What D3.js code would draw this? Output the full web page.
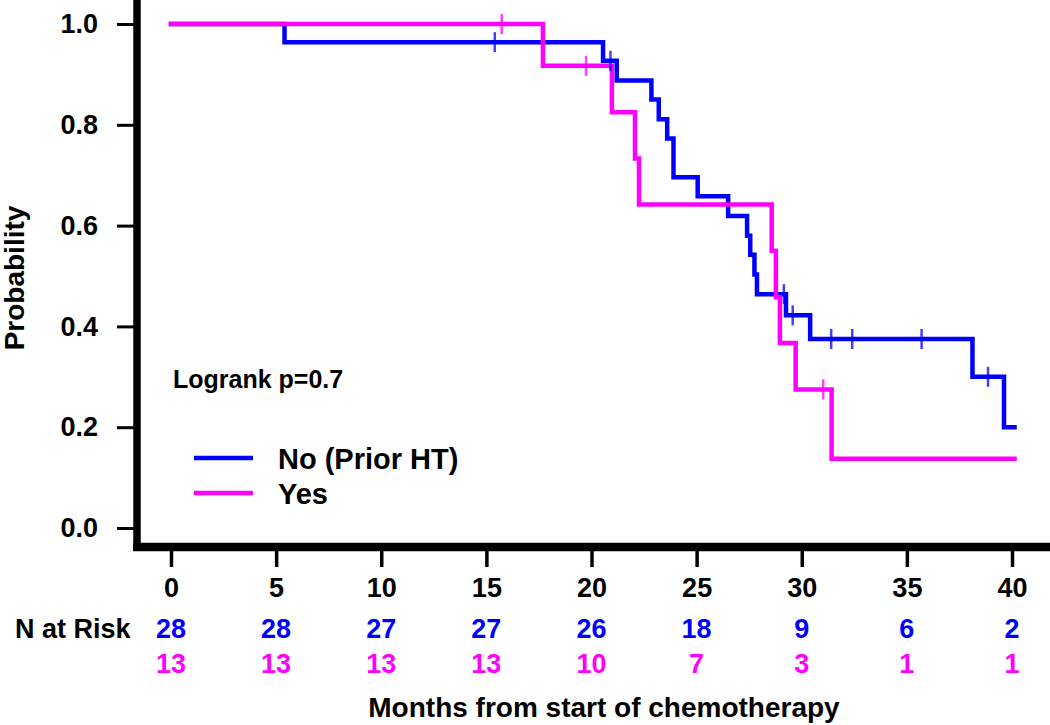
<!DOCTYPE html>
<html>
<head>
<meta charset="utf-8">
<script src="https://cdn.jsdelivr.net/npm/d3@7"></script>
<style>
  html, body { margin: 0; padding: 0; background: #fff; }
  svg { display: block; font-family: "Liberation Sans", Arial, sans-serif; font-weight: bold; }
</style>
</head>
<body>
<svg id="chart" width="1050" height="725"></svg>
<script>
// ---- Data ----
const xTicks = [0, 5, 10, 15, 20, 25, 30, 35, 40];
const yTicks = [0.0, 0.2, 0.4, 0.6, 0.8, 1.0];

// Group "No (Prior HT)" step curve
const noTimes = [0, 5.4, 20.55, 21.2, 22.85, 23.2, 23.6, 23.9, 25.05, 26.5, 27.4, 27.55, 27.75, 27.87, 29.25, 30.4, 38.12, 39.62, 40.12];
const noSurv  = [1, 0.964, 0.927, 0.888, 0.850, 0.811, 0.773, 0.696, 0.658, 0.619, 0.580, 0.542, 0.503, 0.464, 0.422, 0.375, 0.300, 0.200, 0.200];
const noCensor = [15.4, 20.9, 29.15, 29.57, 31.4, 32.4, 35.7, 38.86];

// Group "Yes" step curve
const yesTimes = [0, 17.69, 20.97, 22.07, 22.26, 28.57, 28.77, 28.96, 29.71, 31.42, 40.12];
const yesSurv  = [1, 0.917, 0.825, 0.733, 0.642, 0.550, 0.458, 0.367, 0.275, 0.1375, 0.1375];
const yesCensor = [15.73, 19.74, 31.02];

// Numbers at risk
const riskNo  = [28, 28, 27, 27, 26, 18, 9, 6, 2];
const riskYes = [13, 13, 13, 13, 10, 7, 3, 1, 1];

const groupLabels = ["No (Prior HT)", "Yes"];
const colors = ["#0000ff", "#ff00ff"];

// ---- Layout ----
const svg = d3.select("#chart");
const x = d3.scaleLinear().domain([0, 40]).range([171, 1012]);
const y = d3.scaleLinear().domain([0, 1]).range([528, 24]);

const toPts = (t, s) => t.map((d, i) => [d, s[i]]);
const stepAt = (t, s, v) => { let r = s[0]; for (let i = 0; i < t.length; i++) if (t[i] <= v) r = s[i]; return r; };

const line = d3.line().x(d => x(d[0])).y(d => y(d[1])).curve(d3.curveStepAfter);

const groups = [
  { t: noTimes, s: noSurv, c: noCensor, color: colors[0] },
  { t: yesTimes, s: yesSurv, c: yesCensor, color: colors[1] }
];

// Curves (blue drawn first, pink over)
groups.forEach(g => {
  svg.append("path")
    .attr("d", line(toPts(g.t, g.s)))
    .attr("fill", "none")
    .attr("stroke", g.color)
    .attr("stroke-width", 4.5)
    .attr("stroke-linejoin", "miter")
    .attr("stroke-linecap", "square");
});

// Censor marks
groups.forEach(g => {
  svg.append("g").selectAll("line").data(g.c).join("line")
    .attr("x1", d => x(d)).attr("x2", d => x(d))
    .attr("y1", d => y(stepAt(g.t, g.s, d)) - 10)
    .attr("y2", d => y(stepAt(g.t, g.s, d)) + 10)
    .attr("stroke", g.color)
    .attr("stroke-opacity", 0.75)
    .attr("stroke-width", 2.5);
});

// Y axis
const yAxis = d3.axisLeft(y).tickValues(yTicks).tickFormat(d3.format(".1f")).tickSize(20).tickPadding(19).tickSizeOuter(0);
const gy = svg.append("g").attr("transform", "translate(137,0)").call(yAxis);
gy.select(".domain").remove();
gy.selectAll(".tick line").attr("stroke", "#000").attr("stroke-width", 3);
gy.selectAll(".tick text").attr("font-size", 27).attr("font-weight", "bold").attr("fill", "#000")
  .attr("font-family", "Liberation Sans, Arial, sans-serif");

// X axis
const xAxis = d3.axisBottom(x).tickValues(xTicks).tickFormat(d3.format("d")).tickSize(20).tickPadding(11).tickSizeOuter(0);
const gx = svg.append("g").attr("transform", "translate(0,547)").call(xAxis);
gx.select(".domain").remove();
gx.selectAll(".tick line").attr("stroke", "#000").attr("stroke-width", 3.5);
gx.selectAll(".tick text").attr("font-size", 27).attr("font-weight", "bold").attr("fill", "#000")
  .attr("font-family", "Liberation Sans, Arial, sans-serif");

// Thick axis lines
svg.append("line").attr("x1", 137).attr("x2", 137).attr("y1", 0).attr("y2", 551)
  .attr("stroke", "#000").attr("stroke-width", 7.5);
svg.append("line").attr("x1", 133).attr("x2", 1050).attr("y1", 547).attr("y2", 547)
  .attr("stroke", "#000").attr("stroke-width", 8.5);

// Y axis title
svg.append("text")
  .attr("transform", "translate(24,278) rotate(-90)")
  .attr("text-anchor", "middle")
  .attr("font-size", 28)
  .attr("fill", "#000")
  .text("Probability");

// Logrank annotation
svg.append("text").attr("x", 173).attr("y", 388).attr("font-size", 25).attr("fill", "#000").text("Logrank p=0.7");

// Legend
const legY = [458, 493];
groupLabels.forEach((lab, i) => {
  svg.append("line").attr("x1", 194).attr("x2", 253).attr("y1", legY[i]).attr("y2", legY[i])
    .attr("stroke", colors[i]).attr("stroke-width", 4.5);
  svg.append("text").attr("x", 278).attr("y", legY[i] + 11).attr("font-size", 29).attr("fill", "#000").text(lab);
});

// Numbers at risk
svg.append("text").attr("x", 15).attr("y", 638).attr("font-size", 27).attr("fill", "#000").text("N at Risk");
svg.append("g").selectAll("text").data(riskNo).join("text")
  .attr("x", (d, i) => x(xTicks[i])).attr("y", 638).attr("text-anchor", "middle")
  .attr("font-size", 27).attr("fill", colors[0]).text(d => d);
svg.append("g").selectAll("text").data(riskYes).join("text")
  .attr("x", (d, i) => x(xTicks[i])).attr("y", 673).attr("text-anchor", "middle")
  .attr("font-size", 27).attr("fill", colors[1]).text(d => d);

// X axis title
svg.append("text").attr("x", 604).attr("y", 717).attr("text-anchor", "middle")
  .attr("font-size", 28).attr("fill", "#000").text("Months from start of chemotherapy");
</script>
</body>
</html>
